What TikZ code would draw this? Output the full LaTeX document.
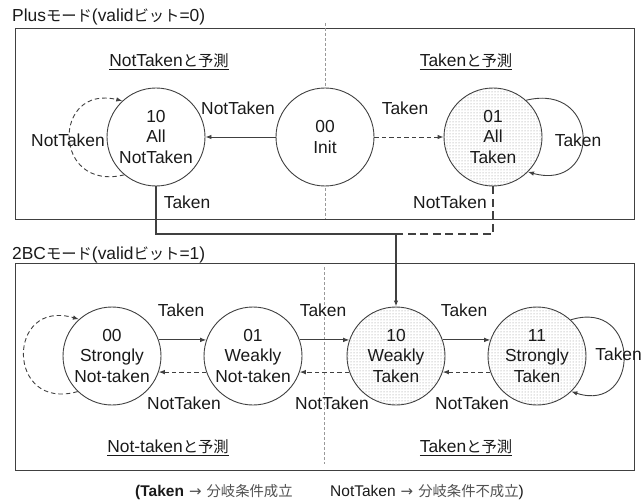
\documentclass[tikz,border=0pt]{standalone}
\usepackage{fontspec}
\setmainfont{Liberation Sans}
\newfontfamily\cjk[Scale=0.88]{Noto Sans CJK JP}
\newfontfamily\sym{DejaVu Sans}
\usetikzlibrary{arrows.meta,patterns}
\definecolor{linec}{HTML}{404040}
\definecolor{txtc}{HTML}{1A1A1A}
\definecolor{legc}{HTML}{505050}
\tikzset{
  lbl/.style={font={\fontsize{17.4}{20.5}\selectfont}, text=txtc, inner sep=0pt},
  state/.style={circle, draw=linec, line width=0.9pt, minimum size=98pt, inner sep=0pt,
    align=center, fill=white, lbl},
  takenstate/.style={state, preaction={fill=white}, pattern=dots, pattern color=gray!90},
  frame/.style={draw=linec, line width=1pt},
  divider/.style={draw=gray!80, line width=0.7pt, dash pattern=on 3pt off 2pt},
  tip/.style={-{Latex[length=6pt,width=4.5pt]}},
  edge/.style={draw=linec, line width=0.9pt, tip},
  dedge/.style={edge, dash pattern=on 4.5pt off 3pt},
  bus/.style={draw=linec, line width=1.8pt},
  dbus/.style={bus, dash pattern=on 8pt off 4.5pt},
  head/.style={lbl},
  legend/.style={lbl, anchor=west, font={\fontsize{15.5}{18}\selectfont}},
}
\newcommand{\hdr}[1]{\underline{#1}}
\newcommand{\legjp}[1]{{\color{legc}\cjk\fontsize{16.3}{20}\selectfont #1}}
\newcommand{\legarrow}{\kern5pt{\color{legc}\sym\fontsize{15}{18}\selectfont →}\kern5pt}
\begin{document}
\begin{tikzpicture}[x=1pt,y=-1pt]
\useasboundingbox (0,0) rectangle (643,500);

% ---------- Plus mode (valid bit = 0) ----------
\node[lbl, anchor=west] (t1) at (12,17) {Plus{\cjk モード}(valid{\cjk ビット}=0)};
\path[frame] (15,29) rectangle (634,219);
\coordinate (d1a) at (325,23);
\coordinate (d1b) at (325,219);
\draw[divider] (d1a) -- (d1b);
\node[head] (h1) at (169,62) {\hdr{NotTaken{\cjk と予測}}};
\node[head] (h2) at (466,62) {\hdr{Taken{\cjk と予測}}};

\node[state] (a10) at (156,137) {10\\All\\NotTaken};
\node[state] (ini) at (325,137) {00\\Init};
\node[takenstate] (a01) at (493,137) {01\\All\\Taken};

\draw[edge] (ini.west) -- (a10.east);
\draw[dedge] (ini.east) -- (a01.west);
\draw[dedge] (a10.230) .. controls (52,192) and (52,84) .. (a10.133);
\draw[edge] (a01.48) .. controls (601,82) and (601,192) .. (a01.-45);

\node[lbl] (l1) at (238,108) {NotTaken};
\node[lbl] (l2) at (405,108) {Taken};
\node[lbl] (l3) at (68,140) {NotTaken};
\node[lbl] (l4) at (578,140) {Taken};
\node[lbl] (l5) at (187,202) {Taken};
\node[lbl] (l6) at (450,202) {NotTaken};

% ---------- 2BC mode (valid bit = 1) ----------
\node[lbl, anchor=west] (t2) at (12,255) {2BC{\cjk モード}(valid{\cjk ビット}=1)};
\path[frame] (15,263) rectangle (634,470);
\coordinate (d2a) at (324,267);
\coordinate (d2b) at (324,464);
\draw[divider] (d2a) -- (d2b);
\node[head] (h3) at (168,448) {\hdr{Not-taken{\cjk と予測}}};
\node[head] (h4) at (466,448) {\hdr{Taken{\cjk と予測}}};

\node[state] (s00) at (112,356) {00\\Strongly\\Not-taken};
\node[state] (w01) at (253,356) {01\\Weakly\\Not-taken};
\node[takenstate] (w10) at (396,356) {10\\Weakly\\Taken};
\node[takenstate] (s11) at (537,356) {11\\Strongly\\Taken};

\draw[edge] (s00.19) -- (w01.161);
\draw[edge] (w01.19) -- (w10.161);
\draw[edge] (w10.19) -- (s11.161);
\draw[dedge] (s11.199) -- (w10.341);
\draw[dedge] (w10.199) -- (w01.341);
\draw[dedge] (w01.199) -- (s00.341);
\draw[dedge] (s00.226) .. controls (6,412) and (6,298) .. (s00.132);
\draw[edge] (s11.47) .. controls (641,298) and (641,414) .. (s11.-46);

\node[lbl] (m1) at (181,310) {Taken};
\node[lbl] (m2) at (184,403) {NotTaken};
\node[lbl] (m3) at (323,310) {Taken};
\node[lbl] (m4) at (332,403) {NotTaken};
\node[lbl] (m5) at (464,310) {Taken};
\node[lbl] (m6) at (472,403) {NotTaken};
\node[lbl, anchor=east] (m7) at (642,354) {Taken};

% ---------- transfer from Plus mode to 2BC mode ----------
\coordinate (join) at (396,234);
\draw[bus, tip] (a10.south) |- (join) -- (w10.north);
\draw[dbus] (a01.south) |- (join);

% ---------- legend ----------
\node[legend] (f1) at (135,492) {\textbf{(Taken}\legarrow\legjp{分岐条件成立}};
\node[legend] (f2) at (330,492) {NotTaken\legarrow\legjp{分岐条件不成立})};
\end{tikzpicture}
\end{document}
